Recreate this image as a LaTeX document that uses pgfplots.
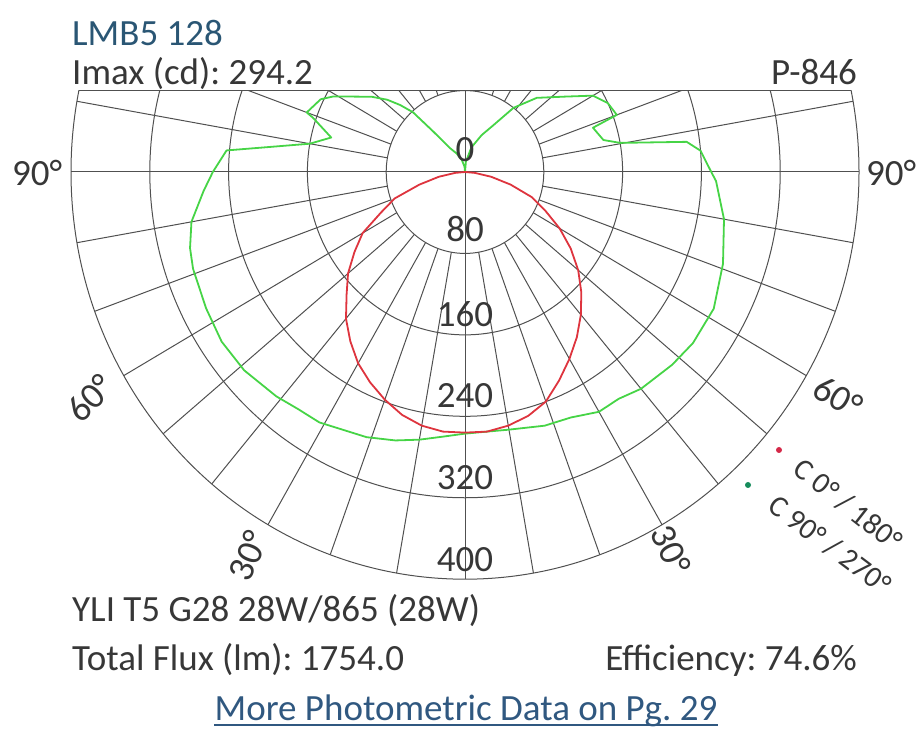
\documentclass[border=0pt]{standalone}
\usepackage{fontspec}
\setmainfont{Carlito}
\usepackage{pgfplots}
\usepackage{pgfplotstable}
\pgfplotsset{compat=1.18}
\frenchspacing

\definecolor{gridc}{RGB}{80,80,80}
\definecolor{textc}{RGB}{55,55,55}
\definecolor{titlec}{RGB}{42,86,116}
\definecolor{linkc}{RGB}{48,88,128}
\definecolor{redc}{RGB}{222,52,62}
\definecolor{greenc}{RGB}{70,212,70}
\definecolor{legred}{RGB}{212,40,72}
\definecolor{leggreen}{RGB}{22,140,92}

% C0/180 plane: gamma (deg, left negative), intensity (cd)
\pgfplotstableread{
g I
-90 0
-85 10
-80 27
-75 48
-70 76
-65 94
-60 120
-55 137
-50 155
-45 170
-40 188
-35 203
-30 217
-25 228
-20 238
-15 247
-10 253
-5 256
0 256
5 256
10 253
15 248
20 240
25 226
30 212
35 198
40 183
45 167
50 150
55 131
60 111
65 90
70 72
75 48
80 27
85 10
90 0
}\redC

% C90/270 plane
\pgfplotstableread{
g I
-180 0
-175 5
-165 12
-155 20
-147 28
-141 51
-138 79
-135 93
-132 106
-128 120
-123 136
-119 153
-116 163
-110 171
-109 163
-104 140
-100 160
-97 201
-95 243
-90 256
-86 266
-80 282
-75 289
-71 292
-63 295
-56 298
-49 297
-41 292
-36 288
-31 287
-21 279
-15 273
-10 267
-5 261
0 257
5 256
10 257
18 262
24 264
30 272
35 272
40 278
48 283
54 286
62 286
71 277
80 267
88 255
90 250
95 240
97.5 227
100.3 160
102.6 144
108.5 137
110 164
115 160
120 150
126 126
135 103
142 80
148 54
155 40
165 25
175 10
180 0
}\greenC

\begin{document}
\begin{tikzpicture}
\begin{axis}[
    hide axis,
    x=0.985pt, y=1.018pt,
    xmin=-412, xmax=412, ymin=-412, ymax=80]
  % circles
  \pgfplotsinvokeforeach{80,160,240,320,400}{
    \draw[gridc, line width=1pt] (axis cs:0,0)
      ellipse [x radius={0.985*#1pt}, y radius={1.018*#1pt}];
  }
  % radial lines every 10 degrees
  \pgfplotsinvokeforeach{10,20,30,40,50,60,70,80,100,110,120,130,140,150,160,170}{
    \draw[gridc, line width=1pt] (axis cs:{80*sin(#1)},{-80*cos(#1)}) -- (axis cs:{400*sin(#1)},{-400*cos(#1)});
    \draw[gridc, line width=1pt] (axis cs:{-80*sin(#1)},{-80*cos(#1)}) -- (axis cs:{-400*sin(#1)},{-400*cos(#1)});
  }
  \draw[gridc, line width=1pt] (axis cs:-400,0) -- (axis cs:400,0);
  \draw[gridc, line width=1pt] (axis cs:0,80) -- (axis cs:0,-400);

  \addplot[draw=greenc, line width=1.8pt, line join=round, no markers]
    table[x expr={\thisrow{I}*sin(\thisrow{g})}, y expr={-\thisrow{I}*cos(\thisrow{g})}] {\greenC};
  \addplot[draw=redc, line width=1.8pt, line join=round, no markers]
    table[x expr={\thisrow{I}*sin(\thisrow{g})}, y expr={-\thisrow{I}*cos(\thisrow{g})}] {\redC};

  \coordinate (c) at (axis cs:0,0);
\end{axis}

\coordinate (O) at ([shift={(-465pt,172pt)}]c);
\begin{scope}[shift={(O)}, x=1pt, y=-1pt, font=\fontsize{37}{44}\selectfont, text=textc,
  every node/.style={inner sep=0pt}]
  \draw[gridc, line width=1pt] (79,90.6) -- (851,90.6);

  % radial scale
  \node[anchor=base] at (465,162) {0};
  \node[anchor=base] at (465,242) {80};
  \node[anchor=base] at (465,327) {160};
  \node[anchor=base] at (465,408) {240};
  \node[anchor=base] at (465,490) {320};
  \node[anchor=base] at (465,572) {400};

  % angle labels
  \node[anchor=base west] at (12,186) {90°};
  \node[anchor=base west] at (866,186) {90°};
  \node[rotate=45] at (90,398) {60°};
  \node[rotate=67] at (248,556) {30°};
  \node[rotate=-30] at (838,397) {60°};
  \node[rotate=-65] at (671,550) {30°};

  % header
  \node[anchor=base west, text=titlec] at (72,46) {LMB5 128};
  \node[anchor=base west] at (72,85) {Imax (cd): 294.2};
  \node[anchor=base east] at (857,85) {P-846};

  % legend
  \fill[legred] (779,450) circle (3pt);
  \fill[leggreen] (748,485) circle (3pt);
  \node[rotate=-38, font=\fontsize{30}{36}\selectfont] at (848,505) {C 0° / 180°};
  \node[rotate=-37, font=\fontsize{30}{36}\selectfont] at (830,545) {C 90° / 270°};

  % footer
  \node[anchor=base west] at (72,622) {YLI T5 G28 28W/865 (28W)};
  \node[anchor=base west] at (72,670) {Total Flux (lm): 1754.0};
  \node[anchor=base east] at (857,670) {Efficiency: 74.6\%};
  \node[anchor=base, text=linkc] (link) at (466,720) {More Photometric Data on Pg. 29};
  \draw[linkc, line width=1.6pt] ([yshift=-5pt]link.base west) -- ([yshift=-5pt]link.base east);

  \pgfresetboundingbox
  \path (0,0) rectangle (917,735);
\end{scope}
\end{tikzpicture}
\end{document}
